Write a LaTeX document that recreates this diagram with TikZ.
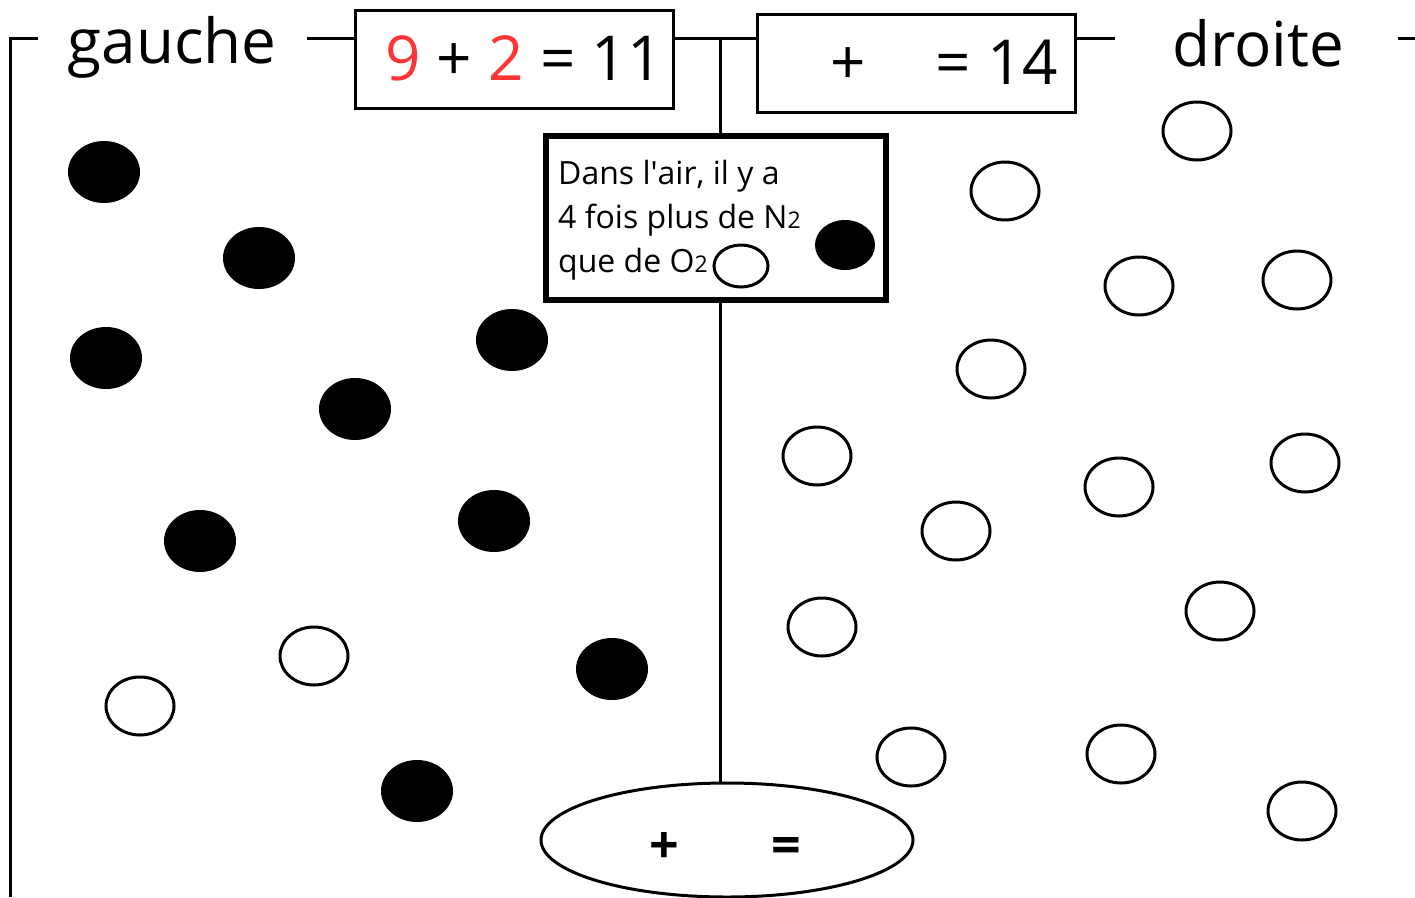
\documentclass[tikz,border=0pt]{standalone}
\usepackage{fontspec}
\setmainfont{Open Sans}
\usepackage{xcolor}
\definecolor{numred}{HTML}{FF3535}
\usetikzlibrary{shapes.geometric}

\begin{document}
\begin{tikzpicture}[x=1pt,y=-1pt,
  wire/.style={line width=3pt},
  sidelbl/.style={inner sep=0pt,font=\fontsize{62}{62}\selectfont},
  eqbox/.style={draw,line width=3pt,minimum width=318pt,minimum height=98pt,inner sep=0pt},
  eqtxt/.style={inner sep=0pt,font=\fontsize{62}{62}\selectfont},
  infobox/.style={draw,line width=5.5pt,fill=white,minimum width=340pt,minimum height=164pt,inner sep=0pt},
  infotxt/.style={anchor=base west,inner sep=0pt,font=\fontsize{32}{32}\selectfont},
  sumell/.style={ellipse,draw,line width=3pt,minimum width=372pt,minimum height=114pt,inner sep=0pt},
  sumtxt/.style={inner sep=0pt,font=\bfseries\fontsize{52}{52}\selectfont},
  molN/.style={ellipse,draw,fill=black,line width=2pt,minimum width=70pt,minimum height=60pt,inner sep=0pt},
  molO/.style={ellipse,draw,line width=3pt,minimum width=68pt,minimum height=58pt,inner sep=0pt}]
  \useasboundingbox (0,0) rectangle (1415,897);
  % titles and the two sums
  \node[sidelbl] (gauche) at (172,47) {gauche};
  \node[sidelbl] (droite) at (1258,43) {droite};
  \node[eqbox] (box1) at (514,59) {};
  \node[eqbox] (box2) at (916,63) {};
  \node[eqtxt] (sum1) at (524,58) {{\color{numred}9} + {\color{numred}2} = 11};
  \node[eqtxt] (sum2) at (944,62) {+\hspace{70pt}= 14};
  % info panel
  \node[infobox] (info) at (716,218) {};
  \node[infotxt] (line1) at (558,184) {Dans l\textquotesingle air, il y a};
  \node[infotxt] (line2) at (558,228) {4 fois plus de N{\fontsize{23}{23}\selectfont 2}};
  \node[infotxt] (line3) at (558,272) {que de O{\fontsize{23}{23}\selectfont 2}};
  \node[molO,minimum width=54pt,minimum height=42pt] (keyO) at (741,266) {};
  \node[molN,minimum width=58pt,minimum height=48pt] (keyN) at (845,245) {};
  % total
  \node[sumell] (total) at (727,840) {};
  \node[sumtxt] (sum3) at (725,848) {+\hspace{92pt}=};
  % frame
  \coordinate (lbot) at (10,897);
  \coordinate (ltick) at (38,38);
  \coordinate (gtick) at (307,38);
  \coordinate (axis) at (720,38);
  \coordinate (dtick) at (1115,38);
  \coordinate (rtick) at (1398,38);
  \coordinate (redge) at (1415,38);
  \draw[wire] (lbot) |- (ltick);
  \draw[wire] (gtick) -- (gtick -| box1.west);
  \draw[wire] (box1.east |- axis) -- (box2.west |- axis);
  \draw[wire] (axis) -- (axis |- info.north);
  \draw[wire] (axis |- info.south) -- (axis |- total.north);
  \draw[wire] (box2.east |- dtick) -- (dtick);
  \draw[wire] (rtick) -- (redge);
  % left side: nitrogen
  \foreach [count=\i] \px/\py in {104/172,259/258,106/358,512/340,355/409,200/541,494/521,612/669,417/791}
    \node[molN] (nl\i) at (\px,\py) {};
  % left side: oxygen
  \foreach [count=\i] \px/\py in {314/656,140/706}
    \node[molO] (ol\i) at (\px,\py) {};
  % right side
  \foreach [count=\i] \px/\py in {1197/131,1005/191,1139/286,1297/280,991/369,817/456,1119/487,1305/463,956/531,1220/611,822/627,911/757,1121/754,1302/811}
    \node[molO] (or\i) at (\px,\py) {};
\end{tikzpicture}
\end{document}
